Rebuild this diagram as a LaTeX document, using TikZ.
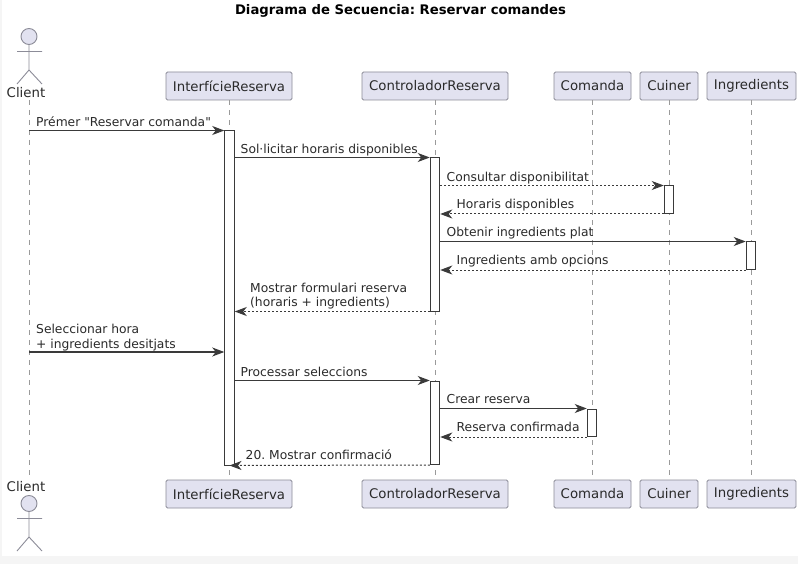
\documentclass[tikz,border=0pt]{standalone}
\usepackage{fontspec}
\setmainfont{DejaVu Sans}
\newfontfamily\plainq{DejaVu Sans}
\usetikzlibrary{arrows.meta}
\definecolor{boxfill}{HTML}{E2E2F0}
\definecolor{boxline}{HTML}{8C8C98}
\definecolor{lifeline}{HTML}{9A9A9A}
\definecolor{msgline}{HTML}{3A3A3A}
\definecolor{txt}{HTML}{2A2A2A}
\tikzset{
  x=1pt,y=-1pt,
  part/.style={draw=boxline,fill=boxfill,line width=.9pt,rounded corners=1.5pt,minimum height=28pt,inner sep=0pt,font=\fontsize{13.3}{15}\selectfont,text=txt},
  lifel/.style={draw=lifeline,line width=.8pt,dash pattern=on 5pt off 5pt},
  actorl/.style={draw=boxline,line width=.9pt},
  bar/.style={draw=msgline,fill=white,line width=1pt,minimum width=9.5pt,inner sep=0pt,anchor=north},
  sync/.style={draw=msgline,line width=1.1pt,-{Stealth[length=12pt,width=9pt,inset=3.5pt]}},
  reply/.style={draw=msgline,line width=1pt,dash pattern=on 2pt off 2pt,-{Stealth[length=12pt,width=9pt,inset=3.5pt]}},
  lbl/.style={anchor=base west,inner sep=0pt,font=\fontsize{12.3}{14}\selectfont,text=txt,align=left},
}
\begin{document}
\frenchspacing
\begin{tikzpicture}
\useasboundingbox (0,0) rectangle (798,564);
\fill[black!4] (0,0) rectangle (798,564);
\fill[white] (2,0) rectangle (798,556);
\node[font=\bfseries\fontsize{13.2}{15}\selectfont,text=black] (title) at (400.5,10.5) {Diagrama de Secuencia: Reservar comandes};

% participants
\node[part,minimum width=126pt] (it) at (229,86) {InterfícieReserva};
\node[part,minimum width=146pt] (ct) at (435,86) {ControladorReserva};
\node[part,minimum width=77pt] (mt) at (592.5,86) {Comanda};
\node[part,minimum width=58pt] (kt) at (669,86) {Cuiner};
\node[part,minimum width=89pt] (gt) at (751.5,86) {Ingredients};
\node[part,minimum width=126pt] (ib) at (229,494) {InterfícieReserva};
\node[part,minimum width=146pt] (cb) at (435,494) {ControladorReserva};
\node[part,minimum width=77pt] (mb) at (592.5,494) {Comanda};
\node[part,minimum width=58pt] (kb) at (669,494) {Cuiner};
\node[part,minimum width=89pt] (gb) at (751.5,494) {Ingredients};

% actors
\node[draw=boxline,fill=boxfill,circle,line width=.9pt,minimum size=16pt,inner sep=0pt] (ah) at (29,36.5) {};
\coordinate (aw) at (17,51.5); \coordinate (ae) at (42,51.5);
\coordinate (as) at (29,70);
\coordinate (al) at (17,84); \coordinate (ar) at (42,84);
\draw[actorl] (ah) -- (as) (aw) -- (ae) (al) -- (as) -- (ar);
\node[font=\fontsize{13.3}{15}\selectfont,text=txt,inner sep=0pt] (at) at (26,93) {Client};

\node[font=\fontsize{13.3}{15}\selectfont,text=txt,inner sep=0pt] (ab) at (26,487) {Client};
\node[draw=boxline,fill=boxfill,circle,line width=.9pt,minimum size=16pt,inner sep=0pt] (bh) at (29,503.5) {};
\coordinate (bw) at (17,518.5); \coordinate (be) at (42,518.5);
\coordinate (bs) at (29,537);
\coordinate (bl) at (17,551); \coordinate (br) at (42,551);
\draw[actorl] (bh) -- (bs) (bw) -- (be) (bl) -- (bs) -- (br);

% lifelines
\coordinate (c1) at (29,100); \coordinate (c2) at (29,478);
\draw[lifel] (c1) -- (c2);
\draw[lifel] (it) -- (ib);
\draw[lifel] (ct) -- (cb);
\draw[lifel] (mt) -- (mb);
\draw[lifel] (kt) -- (kb);
\draw[lifel] (gt) -- (gb);

% activation bars
\node[bar,minimum height=334pt] (ai) at (229.5,130.5) {};
\node[bar,minimum height=153pt] (ac1) at (435,157.5) {};
\node[bar,minimum height=83.5pt] (ac2) at (435,380.5) {};
\node[bar,minimum height=27.5pt] (ak) at (669,185.5) {};
\node[bar,minimum height=27.5pt] (ag) at (751,241.5) {};
\node[bar,minimum height=27.5pt] (am) at (592,408.5) {};

% messages
\coordinate (s1) at (29,130.5);
\draw[sync] (s1) -- (ai.north west);
\node[lbl] (t1) at (36,126.5) {Prémer {\plainq"}Reservar comanda{\plainq"}};

\coordinate (s2a) at (ai.east |- ac1.north);
\draw[sync] (s2a) -- (ac1.north west);
\node[lbl] (t2) at (240.5,153.5) {Sol·licitar horaris disponibles};

\draw[reply] (ac1.east |- ak.north) -- (ak.north west);
\node[lbl] (t3) at (446.5,181.5) {Consultar disponibilitat};

\draw[reply] (ak.south west) -- (ac1.east |- ak.south);
\node[lbl] (t4) at (456.5,209) {Horaris disponibles};

\draw[sync] (ac1.east |- ag.north) -- (ag.north west);
\node[lbl] (t5) at (446.5,236.5) {Obtenir ingredients plat};

\draw[reply] (ag.south west) -- (ac1.east |- ag.south);
\node[lbl] (t6) at (456.5,264.5) {Ingredients amb opcions};

\draw[reply] (ac1.south west) -- (ai.east |- ac1.south);
\node[lbl] (t7) at (250,292) {Mostrar formulari reserva};
\node[lbl] (t7b) at (250,306) {(horaris + ingredients)};

\coordinate (s8) at (29,352);
\coordinate (e8) at (ai.west |- s8);
\draw[sync] (s8) -- (e8);
\node[lbl] (t8) at (36,333.5) {Seleccionar hora};
\node[lbl] (t8b) at (36,348) {+ ingredients desitjats};

\draw[sync] (ai.east |- ac2.north) -- (ac2.north west);
\node[lbl] (t9) at (240.5,376) {Processar seleccions};

\draw[sync] (ac2.east |- am.north) -- (am.north west);
\node[lbl] (t10) at (446.5,403.5) {Crear reserva};

\draw[reply] (am.south west) -- (ac2.east |- am.south);
\node[lbl] (t11) at (456.5,431.5) {Reserva confirmada};

\draw[reply] (ac2.south west) -- (ai.south);
\node[lbl] (t12) at (245.5,459) {20. Mostrar confirmació};
\end{tikzpicture}
\end{document}
